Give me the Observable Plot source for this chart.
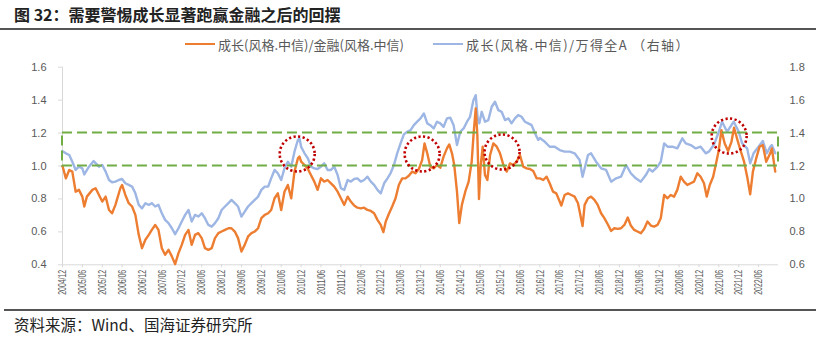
<!DOCTYPE html>
<html><head><meta charset="utf-8">
<script src="https://cdn.jsdelivr.net/npm/d3@7"></script>
<script src="https://cdn.jsdelivr.net/npm/@observablehq/plot@0.6"></script>
<style>
body{margin:0;background:#fff;}
#wrap{position:relative;width:816px;height:338px;overflow:hidden;font-family:"Noto Sans CJK SC",sans-serif;background:#fff;}
#title{position:absolute;left:14px;top:3px;font-size:16px;font-weight:700;color:#222;white-space:nowrap;line-height:22px;}
#tline{position:absolute;left:0;top:28px;width:816px;height:2px;background:#555;}
.li{position:absolute;top:36px;height:16px;display:flex;align-items:center;white-space:nowrap;font-size:13px;color:#595959;}
.sw{display:inline-block;width:30px;height:2px;margin-right:3px;}
#lt2{letter-spacing:1.4px;}
#chart{position:absolute;left:0;top:55px;}
#fline{position:absolute;left:4px;top:309px;width:812px;height:2px;background:#555;}
#foot{position:absolute;left:14px;top:313px;font-size:15.5px;color:#222;white-space:nowrap;line-height:22px;}
</style></head>
<body>
<div id="wrap">
  <div id="title">图 32：需要警惕成长显著跑赢金融之后的回摆</div>
  <div id="tline"></div>
  <div class="li" id="lg1" style="left:185px"><span class="sw" style="background:#ED7D31"></span><span id="lt1"></span></div>
  <div class="li" id="lg2" style="left:433px"><span class="sw" style="background:#9DB6E4"></span><span id="lt2"></span></div>
  <div id="chart"></div>
  <div id="fline"></div>
  <div id="foot">资料来源：Wind、国海证券研究所</div>
</div>
<script>
// ---- series names ----
const seriesNames = ["成长(风格.中信)/金融(风格.中信)", "成长(风格.中信)/万得全A （右轴）"];

// ---- left axis ticks / right axis ticks ----
const leftTicks = [0.4, 0.6, 0.8, 1.0, 1.2, 1.4, 1.6];
const leftTickLabels = ["0.4", "0.6", "0.8", "1.0", "1.2", "1.4", "1.6"];
const rightTickLabels = ["0.6", "0.8", "1.0", "1.2", "1.4", "1.6", "1.8"];
const rightOffset = 0.2; // right axis value = left axis value + 0.2

// ---- x tick labels ----
const xTickLabels = ["2004/12","2005/06","2005/12","2006/06","2006/12","2007/06","2007/12","2008/06","2008/12",
  "2009/06","2009/12","2010/06","2010/12","2011/06","2011/12","2012/06","2012/12","2013/06","2013/12",
  "2014/06","2014/12","2015/06","2015/12","2016/06","2016/12","2017/06","2017/12","2018/06","2018/12",
  "2019/06","2019/12","2020/06","2020/12","2021/06","2021/12","2022/06"];
const xStart = "2004-12-01", xEnd = "2022-12-01";

// ---- band (green dashed box), left-axis units ----
const bandLow = 1.0, bandHigh = 1.2;

// ---- highlighted peaks (red dotted circles), left-axis units ----
const peakDates = ["2010-10-26", "2013-12-16", "2015-12-20", "2021-09-04"];
const peakValues = [1.073, 1.073, 1.085, 1.182];

// ---- growth / finance (left axis) ----
const growthVsFinance = [
["2004-12-01",1.000],["2005-01-01",0.925],["2005-02-01",0.976],["2005-03-01",0.966],["2005-04-01",0.844],["2005-05-01",0.855],
["2005-06-01",0.814],["2005-06-19",0.754],["2005-07-13",0.814],["2005-09-01",0.855],["2005-10-01",0.865],["2005-11-01",0.824],["2005-12-01",0.784],
["2006-01-01",0.814],["2006-02-01",0.733],["2006-03-01",0.713],["2006-04-01",0.764],["2006-05-16",0.865],["2006-06-01",0.885],
["2006-07-01",0.824],["2006-08-01",0.774],["2006-09-01",0.754],["2006-10-01",0.703],["2006-11-01",0.582],["2006-12-01",0.501],
["2007-01-01",0.552],["2007-02-01",0.582],["2007-03-01",0.612],["2007-04-01",0.642],["2007-05-01",0.612],["2007-06-01",0.501],
["2007-07-01",0.461],["2007-08-01",0.491],["2007-09-01",0.451],["2007-10-01",0.404],["2007-11-01",0.471],["2007-12-01",0.521],
["2008-01-01",0.582],["2008-02-01",0.612],["2008-03-01",0.521],["2008-04-01",0.582],["2008-05-01",0.592],["2008-06-01",0.562],
["2008-07-01",0.501],["2008-08-01",0.491],["2008-09-01",0.501],["2008-10-01",0.562],["2008-11-01",0.592],["2008-12-01",0.602],
["2009-01-01",0.612],["2009-02-01",0.622],["2009-03-01",0.622],["2009-04-01",0.602],["2009-05-01",0.562],["2009-06-01",0.481],
["2009-07-01",0.521],["2009-08-01",0.572],["2009-09-01",0.592],["2009-10-01",0.602],["2009-11-01",0.622],["2009-12-01",0.683],
["2010-01-01",0.703],["2010-02-01",0.713],["2010-03-01",0.733],["2010-04-01",0.804],["2010-05-01",0.834],["2010-06-01",0.733],
["2010-07-01",0.844],["2010-08-01",0.885],["2010-09-01",0.804],["2010-10-01",0.966],["2010-11-01",1.046],["2010-11-16",1.057],["2010-12-01",1.026],
["2011-01-01",1.006],["2011-02-01",0.982],["2011-03-01",0.945],["2011-04-01",0.905],["2011-05-01",0.855],["2011-06-01",0.925],
["2011-07-01",0.905],["2011-08-01",0.915],["2011-09-01",0.895],["2011-10-01",0.875],["2011-11-01",0.844],["2011-12-01",0.804],
["2012-01-01",0.764],["2012-02-01",0.814],["2012-03-01",0.784],["2012-04-01",0.760],["2012-05-01",0.747],["2012-06-01",0.743],
["2012-07-01",0.747],["2012-08-01",0.733],["2012-09-01",0.727],["2012-10-01",0.713],["2012-11-01",0.673],["2012-12-01",0.642],["2012-12-25",0.598],
["2013-01-16",0.663],["2013-02-16",0.713],["2013-03-16",0.754],["2013-04-16",0.804],["2013-05-16",0.885],["2013-06-16",0.925],
["2013-07-16",0.925],["2013-08-16",0.941],["2013-09-16",0.966],["2013-10-16",0.956],["2013-11-16",0.982],["2013-12-16",1.036],
["2014-01-07",1.137],["2014-02-01",1.077],["2014-03-01",0.996],["2014-04-01",0.986],["2014-05-01",1.006],["2014-06-01",0.990],
["2014-07-01",1.057],["2014-08-01",1.107],["2014-08-22",1.131],["2014-09-16",1.077],["2014-10-07",1.006],["2014-11-01",0.844],
["2014-11-22",0.653],["2014-12-16",0.764],
["2015-01-16",0.844],["2015-02-16",0.905],["2015-03-16",1.026],["2015-04-04",1.208],["2015-04-22",1.349],["2015-05-07",1.188],
["2015-05-22",0.800],["2015-06-07",1.006],["2015-06-25",1.117],["2015-07-16",0.945],["2015-08-07",0.915],["2015-09-01",1.067],
["2015-10-01",1.137],["2015-11-01",1.117],["2015-12-01",1.077],
["2016-01-01",1.006],["2016-02-01",0.966],["2016-03-01",1.016],["2016-04-01",1.006],["2016-05-01",1.026],["2016-06-01",1.067],
["2016-07-01",0.996],["2016-08-01",0.986],["2016-09-01",0.982],["2016-10-01",0.970],["2016-11-01",0.925],["2016-12-01",0.925],
["2017-01-01",0.915],["2017-02-01",0.935],["2017-03-01",0.895],["2017-04-01",0.844],["2017-05-01",0.834],["2017-06-01",0.784],
["2017-06-16",0.760],["2017-07-16",0.824],["2017-08-16",0.834],["2017-09-16",0.824],["2017-10-16",0.814],["2017-11-16",0.774],
["2017-12-28",0.635],["2018-01-16",0.764],["2018-02-16",0.804],["2018-03-16",0.814],["2018-04-16",0.794],["2018-05-16",0.764],
["2018-06-16",0.713],["2018-07-16",0.683],["2018-08-16",0.646],["2018-09-16",0.606],["2018-10-16",0.622],["2018-11-16",0.618],["2018-12-16",0.622],
["2019-01-16",0.642],["2019-02-16",0.687],["2019-03-16",0.638],["2019-04-16",0.612],["2019-05-16",0.602],["2019-06-16",0.592],
["2019-07-16",0.618],["2019-08-16",0.663],["2019-09-16",0.638],["2019-10-16",0.632],["2019-11-16",0.642],["2019-12-16",0.683],
["2020-01-16",0.824],["2020-02-16",0.804],["2020-03-16",0.824],["2020-04-16",0.814],["2020-05-16",0.855],["2020-06-16",0.935],
["2020-07-16",0.905],["2020-08-16",0.885],["2020-09-16",0.895],["2020-10-16",0.905],["2020-11-16",0.956],["2020-12-16",0.935],
["2021-01-16",0.895],["2021-02-10",0.814],["2021-03-10",0.885],["2021-04-10",0.935],["2021-05-10",1.026],["2021-06-01",1.097],
["2021-06-25",1.218],["2021-07-25",1.137],["2021-08-25",1.091],["2021-09-25",1.147],["2021-10-19",1.232],["2021-11-19",1.158],["2021-12-19",1.091],
["2022-01-19",1.026],["2022-02-19",0.925],["2022-03-16",0.828],["2022-04-10",0.966],["2022-05-10",1.046],["2022-06-10",1.117],
["2022-07-10",1.127],["2022-08-10",1.026],["2022-09-16",1.077],["2022-10-01",1.107],["2022-11-01",0.966]
];

// ---- growth / Wind All A (right axis) ----
const growthVsWindA = [
["2004-12-01",1.290],["2005-01-01",1.277],["2005-02-01",1.267],["2005-03-01",1.226],["2005-04-01",1.176],["2005-05-01",1.196],
["2005-06-01",1.186],["2005-06-19",1.149],["2005-08-01",1.196],["2005-09-13",1.230],["2005-11-01",1.196],["2005-12-01",1.206],
["2006-01-01",1.166],["2006-02-01",1.115],["2006-03-01",1.101],["2006-04-01",1.105],["2006-05-01",1.115],["2006-06-01",1.121],
["2006-07-01",1.095],["2006-08-01",1.085],["2006-09-01",1.075],["2006-10-01",1.034],["2006-11-01",0.964],["2006-12-01",0.943],
["2007-01-01",0.974],["2007-02-01",0.964],["2007-03-01",0.974],["2007-04-01",0.954],["2007-05-01",0.964],["2007-06-01",0.913],
["2007-07-01",0.873],["2007-08-01",0.853],["2007-09-01",0.822],["2007-10-01",0.786],["2007-11-01",0.822],["2007-12-01",0.863],
["2008-01-01",0.903],["2008-02-01",0.933],["2008-03-01",0.863],["2008-04-01",0.903],["2008-05-01",0.893],["2008-06-01",0.913],
["2008-07-01",0.883],["2008-08-01",0.842],["2008-09-01",0.832],["2008-10-01",0.853],["2008-11-01",0.883],["2008-12-01",0.933],
["2009-01-01",0.954],["2009-02-01",0.974],["2009-03-01",0.994],["2009-04-01",0.974],["2009-05-01",0.954],["2009-06-01",0.893],
["2009-07-01",0.923],["2009-08-01",0.954],["2009-09-01",0.974],["2009-10-01",0.994],["2009-11-01",1.014],["2009-12-01",1.055],
["2010-01-01",1.075],["2010-02-01",1.075],["2010-03-01",1.125],["2010-04-01",1.176],["2010-05-01",1.156],["2010-06-01",1.115],
["2010-07-01",1.186],["2010-08-01",1.226],["2010-09-01",1.196],["2010-10-01",1.287],["2010-11-01",1.358],["2010-11-16",1.368],["2010-12-01",1.317],
["2011-01-01",1.277],["2011-02-01",1.246],["2011-03-01",1.196],["2011-04-01",1.186],["2011-05-01",1.182],["2011-06-01",1.196],
["2011-07-01",1.216],["2011-08-01",1.176],["2011-09-01",1.176],["2011-10-01",1.196],["2011-11-01",1.145],["2011-12-01",1.065],
["2012-01-01",1.055],["2012-02-01",1.115],["2012-03-01",1.105],["2012-04-01",1.121],["2012-05-01",1.125],["2012-06-01",1.105],
["2012-07-01",1.115],["2012-08-01",1.135],["2012-09-01",1.105],["2012-10-01",1.085],["2012-11-01",1.055],["2012-12-01",1.034],
["2013-01-01",1.095],["2013-02-01",1.125],["2013-03-01",1.156],["2013-04-01",1.206],["2013-05-01",1.277],["2013-06-01",1.337],
["2013-07-01",1.392],["2013-08-01",1.408],["2013-09-01",1.418],["2013-10-01",1.448],["2013-11-01",1.469],["2013-12-01",1.489],
["2014-01-01",1.519],["2014-02-01",1.459],["2014-03-01",1.448],["2014-04-01",1.428],["2014-05-01",1.469],["2014-06-01",1.459],
["2014-07-01",1.438],["2014-08-01",1.489],["2014-09-01",1.493],["2014-10-01",1.448],["2014-11-01",1.327],["2014-12-01",1.408],
["2015-01-01",1.428],["2015-02-01",1.469],["2015-03-01",1.499],["2015-04-01",1.600],["2015-04-22",1.630],["2015-05-10",1.489],
["2015-05-25",1.459],["2015-06-16",1.529],["2015-07-16",1.469],["2015-08-16",1.479],["2015-09-16",1.560],["2015-10-16",1.590],
["2015-11-16",1.539],["2015-12-16",1.529],
["2016-01-16",1.479],["2016-02-16",1.489],["2016-03-16",1.459],["2016-04-16",1.489],["2016-05-16",1.509],["2016-06-16",1.499],
["2016-07-16",1.469],["2016-08-16",1.459],["2016-09-16",1.448],["2016-10-16",1.400],["2016-11-16",1.358],["2016-12-01",1.370],
["2017-01-16",1.347],["2017-03-01",1.317],["2017-04-16",1.317],["2017-06-01",1.297],["2017-07-16",1.287],["2017-09-01",1.287],
["2017-10-16",1.277],["2017-12-01",1.236],["2017-12-28",1.135],["2018-02-16",1.267],["2018-03-16",1.277],["2018-05-01",1.226],
["2018-06-16",1.186],["2018-08-01",1.176],["2018-09-16",1.105],["2018-11-01",1.125],["2018-12-16",1.135],
["2019-02-01",1.206],["2019-03-16",1.156],["2019-05-01",1.125],["2019-06-16",1.105],["2019-08-01",1.145],["2019-09-01",1.182],
["2019-10-01",1.166],["2019-11-16",1.196],["2019-12-16",1.226],
["2020-01-16",1.337],["2020-02-16",1.317],["2020-04-01",1.317],["2020-05-16",1.307],["2020-07-01",1.368],["2020-08-01",1.337],
["2020-09-16",1.327],["2020-11-01",1.307],["2020-12-16",1.317],
["2021-02-01",1.277],["2021-03-01",1.287],["2021-04-16",1.327],["2021-06-01",1.408],["2021-07-01",1.469],["2021-08-16",1.408],
["2021-10-16",1.469],["2021-12-01",1.408],
["2022-01-01",1.337],["2022-02-16",1.307],["2022-03-16",1.216],["2022-04-16",1.277],["2022-06-01",1.317],["2022-07-10",1.352],
["2022-08-16",1.277],["2022-09-16",1.317],["2022-10-01",1.327],["2022-11-01",1.277]
];

// ---- build tables ----
const orangeData = growthVsFinance.map(([d, v]) => ({date: new Date(d), v}));
const blueData = growthVsWindA.map(([d, v]) => ({date: new Date(d), v}));
const peaks = peakDates.map((d, i) => ({date: new Date(d), v: peakValues[i]}));
const xTicks = xTickLabels.map(l => new Date(l.replace("/", "-") + "-01"));
const xLabelMap = new Map(xTicks.map((d, i) => [+d, xTickLabels[i]]));
const leftMap = new Map(leftTicks.map((v, i) => [v, leftTickLabels[i]]));
const rightMap = new Map(leftTicks.map((v, i) => [v, rightTickLabels[i]]));
const box = [{x1: new Date(xStart), x2: new Date(xEnd), y1: bandLow, y2: bandHigh}];

document.getElementById("lt1").textContent = seriesNames[0];
document.getElementById("lt2").textContent = seriesNames[1];

const gray = "#595959", axisGray = "#d9d9d9";
const chart = Plot.plot({
  width: 816, height: 250,
  marginLeft: 62, marginRight: 38, marginTop: 11.7, marginBottom: 40.7,
  style: {fontFamily: "'Liberation Sans', Arial, sans-serif", fontSize: "11px", color: gray, background: "transparent", overflow: "visible"},
  x: {type: "utc", domain: [new Date(xStart), new Date(xEnd)]},
  y: {domain: [0.4, 1.6]},
  marks: [
    Plot.ruleY([0.4], {stroke: axisGray, strokeWidth: 1}),
    Plot.ruleX([new Date(xStart)], {stroke: axisGray, strokeWidth: 1}),
    Plot.axisY({ticks: leftTicks, tickFormat: d => leftMap.get(d), tickSize: 4, tickPadding: 12, stroke: axisGray, fill: gray, fontSize: 11, label: null}),
    Plot.axisY({anchor: "right", ticks: leftTicks, tickFormat: d => rightMap.get(d), tickSize: 0, tickPadding: 11, fill: gray, fontSize: 11, label: null}),
    Plot.axisX({ticks: xTicks, tickFormat: d => xLabelMap.get(+d), tickRotate: -90, tickSize: 3, tickPadding: 2, stroke: axisGray, fill: gray,
      fontFamily: "'Liberation Sans', Arial, sans-serif", fontSize: 11.5, label: null}),
    Plot.line(blueData, {x: "date", y: d => d.v - rightOffset, stroke: "#9DB6E4", strokeWidth: 2.4, strokeLinejoin: "round"}),
    Plot.line(orangeData, {x: "date", y: "v", stroke: "#ED7D31", strokeWidth: 2.4, strokeLinejoin: "round"}),
    Plot.rect(box, {x1: "x1", x2: "x2", y1: "y1", y2: "y2", fill: "none", stroke: "#70AD47", strokeWidth: 2, strokeDasharray: "10,5"}),
    Plot.dot(peaks, {x: "date", y: "v", r: 17.5, fill: "none", stroke: "#C00000", strokeWidth: 2.6, strokeDasharray: "2.2,2.4"})
  ]
});
// condense the rotated date labels to the narrow width used in the original
d3.select(chart).selectAll('g[aria-label="x-axis tick label"] text')
  .attr("textLength", 25).attr("lengthAdjust", "spacingAndGlyphs");
document.getElementById("chart").appendChild(chart);
</script>
</body></html>
